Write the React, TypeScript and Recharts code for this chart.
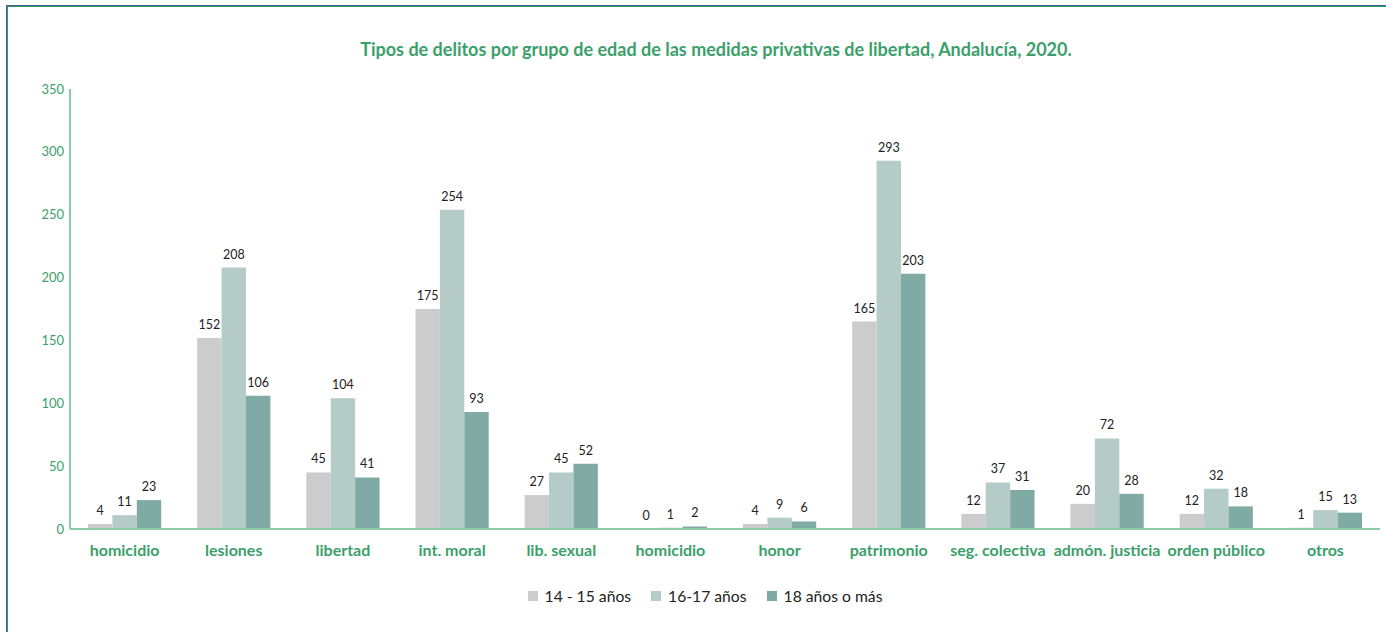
import React from 'react';
import { BarChart, Bar, XAxis, YAxis, Legend, LabelList } from 'recharts';

const categories = [
  'homicidio', 'lesiones', 'libertad', 'int. moral', 'lib. sexual', 'homicidio',
  'honor', 'patrimonio', 'seg. colectiva', 'admón. justicia', 'orden público', 'otros',
];
const age14to15 = [4, 152, 45, 175, 27, 0, 4, 165, 12, 20, 12, 1];
const age16to17 = [11, 208, 104, 254, 45, 1, 9, 293, 37, 72, 32, 15];
const age18plus = [23, 106, 41, 93, 52, 2, 6, 203, 31, 28, 18, 13];
const yTicks = [0, 50, 100, 150, 200, 250, 300, 350];

const data = categories.map((name, i) => ({
  name,
  a: age14to15[i],
  b: age16to17[i],
  c: age18plus[i],
}));

const GREEN = '#3b9f6b';
const FONT = 'Lato, "Open Sans", sans-serif';

// zero values still need a (hidden) rect so their label gets drawn
const tinyForZero = (value: any) => (value === 0 ? 0.01 : 0);

const renderValue = (props: any) => {
  const { x, y, width, value } = props;
  if (value === undefined || value === null) return null;
  return (
    <text
      x={Number(x) + Number(width) / 2}
      y={Number(y) - 9}
      textAnchor="middle"
      fontSize={12.5}
      fill="#222"
      fontFamily={FONT}
    >
      {value}
    </text>
  );
};

const renderLegend = (props: any) => {
  const { payload } = props;
  return (
    <div style={{ display: 'flex', justifyContent: 'center', paddingLeft: 24, fontFamily: FONT, fontSize: 15.7, color: '#222' }}>
      {payload.map((item: any, i: number) => (
        <div key={i} style={{ display: 'flex', alignItems: 'center', marginRight: i < payload.length - 1 ? 20 : 0 }}>
          <span style={{ display: 'inline-block', width: 10, height: 10, background: item.color, marginRight: 7 }} />
          <span>{item.value}</span>
        </div>
      ))}
    </div>
  );
};

export default function App() {
  return (
    <div style={{ position: 'absolute', left: 0, top: 0, width: 1386, height: 632, overflow: 'hidden', background: '#fff' }}>
      <div
        style={{
          position: 'absolute', left: 7, top: 6, width: 1400, height: 650,
          borderLeft: '1px solid #2e9a5e', borderTop: '1px solid #2e9a5e',
          boxShadow: '-1px -1px 0 #4b5b9b',
        }}
      />
      <div
        style={{
          position: 'absolute', left: 316, top: 38, width: 800, textAlign: 'center',
          fontFamily: FONT, fontWeight: 700, fontSize: 18, color: GREEN,
        }}
      >
        Tipos de delitos por grupo de edad de las medidas privativas de libertad, Andalucía, 2020.
      </div>
      <div style={{ position: 'absolute', left: 0, top: 0 }}>
        <BarChart
          width={1386}
          height={632}
          data={data}
          margin={{ top: 89, right: 6, left: 0, bottom: 27 }}
          barGap={0}
          barSize={24.4}
        >
          <XAxis
            dataKey="name"
            allowDuplicatedCategory
            interval={0}
            height={58}
            axisLine={{ stroke: '#8ccaa6', strokeWidth: 2 }}
            tickLine={false}
            tickSize={0}
            tickMargin={16}
            tick={{ fontSize: 16, fontWeight: 700, fill: GREEN, fontFamily: FONT }}
          />
          <YAxis
            width={70}
            domain={[0, 350]}
            ticks={yTicks}
            interval={0}
            axisLine={{ stroke: '#8ccaa6', strokeWidth: 2 }}
            tickLine={false}
            tickSize={0}
            tickMargin={6}
            tick={{ fontSize: 13, fill: GREEN, fontFamily: FONT }}
          />
          <Legend
            verticalAlign="bottom"
            height={18}
            content={renderLegend}
            wrapperStyle={{ left: 0, width: 1386 }}
          />
          <Bar dataKey="a" name="14 - 15 años" fill="#cccccc" minPointSize={tinyForZero} isAnimationActive={false}>
            <LabelList dataKey="a" content={renderValue} />
          </Bar>
          <Bar dataKey="b" name="16-17 años" fill="#b4cbc7" minPointSize={tinyForZero} isAnimationActive={false}>
            <LabelList dataKey="b" content={renderValue} />
          </Bar>
          <Bar dataKey="c" name="18 años o más" fill="#80aba5" minPointSize={tinyForZero} isAnimationActive={false}>
            <LabelList dataKey="c" content={renderValue} />
          </Bar>
        </BarChart>
      </div>
    </div>
  );
}
